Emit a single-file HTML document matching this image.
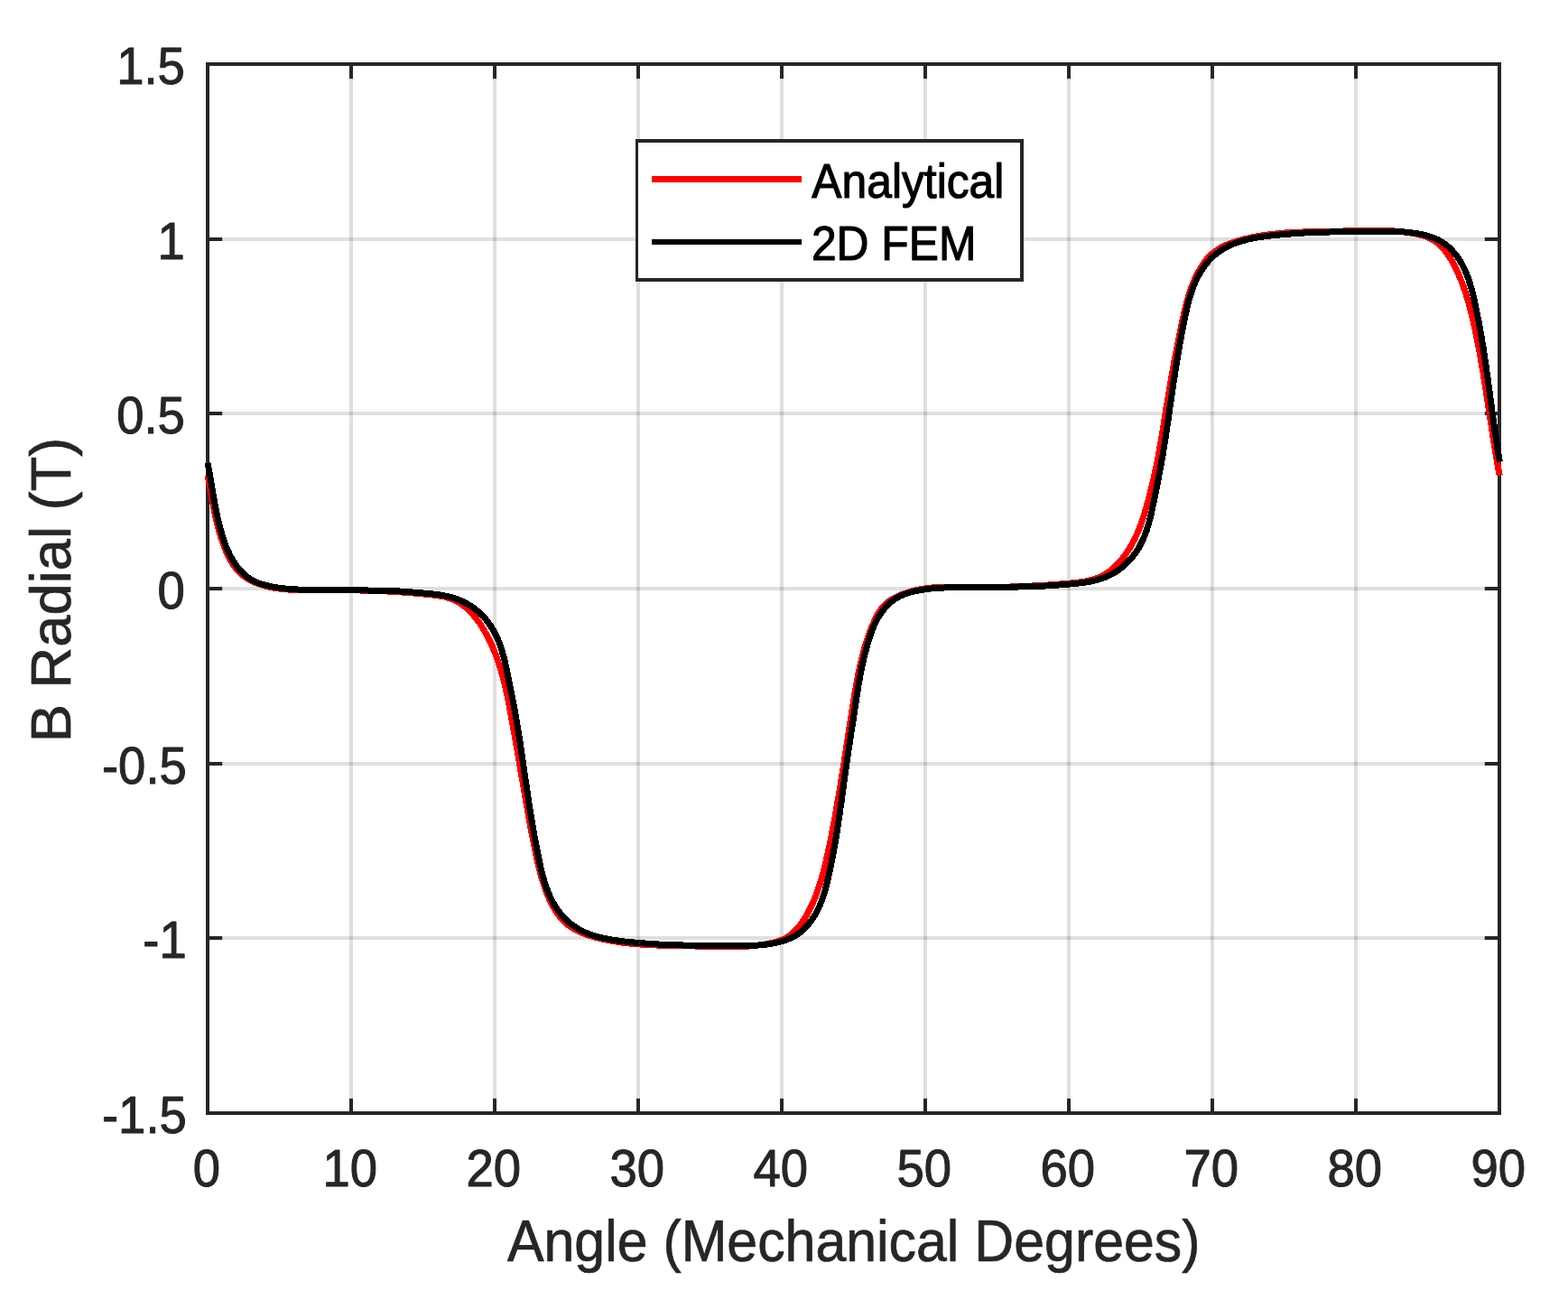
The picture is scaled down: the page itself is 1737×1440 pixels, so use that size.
<!DOCTYPE html>
<html lang="en"><head><meta charset="utf-8"><title>B Radial vs Angle</title>
<style>html,body{margin:0;padding:0;background:#fff}body{width:1737px;height:1440px;overflow:hidden}svg{display:block}text{font-family:"Liberation Sans",sans-serif}</style></head><body>
<svg width="1737" height="1440" viewBox="0 0 1737 1440">
<rect width="1737" height="1440" fill="#fff"/>
<g stroke="#262626" stroke-opacity="0.15" stroke-width="4" fill="none">
<line x1="389.00" y1="71.00" x2="389.00" y2="1233.00"/>
<line x1="548.00" y1="71.00" x2="548.00" y2="1233.00"/>
<line x1="707.00" y1="71.00" x2="707.00" y2="1233.00"/>
<line x1="866.00" y1="71.00" x2="866.00" y2="1233.00"/>
<line x1="1025.00" y1="71.00" x2="1025.00" y2="1233.00"/>
<line x1="1184.00" y1="71.00" x2="1184.00" y2="1233.00"/>
<line x1="1343.00" y1="71.00" x2="1343.00" y2="1233.00"/>
<line x1="1502.00" y1="71.00" x2="1502.00" y2="1233.00"/>
<line x1="230.00" y1="265.00" x2="1661.00" y2="265.00"/>
<line x1="230.00" y1="458.00" x2="1661.00" y2="458.00"/>
<line x1="230.00" y1="652.00" x2="1661.00" y2="652.00"/>
<line x1="230.00" y1="846.00" x2="1661.00" y2="846.00"/>
<line x1="230.00" y1="1039.00" x2="1661.00" y2="1039.00"/>
</g>
<g stroke="#262626" stroke-width="4" fill="none">
<rect x="230.00" y="71.00" width="1431.00" height="1162.00"/>
<line x1="389.00" y1="71.00" x2="389.00" y2="87.20"/>
<line x1="389.00" y1="1233.00" x2="389.00" y2="1216.80"/>
<line x1="548.00" y1="71.00" x2="548.00" y2="87.20"/>
<line x1="548.00" y1="1233.00" x2="548.00" y2="1216.80"/>
<line x1="707.00" y1="71.00" x2="707.00" y2="87.20"/>
<line x1="707.00" y1="1233.00" x2="707.00" y2="1216.80"/>
<line x1="866.00" y1="71.00" x2="866.00" y2="87.20"/>
<line x1="866.00" y1="1233.00" x2="866.00" y2="1216.80"/>
<line x1="1025.00" y1="71.00" x2="1025.00" y2="87.20"/>
<line x1="1025.00" y1="1233.00" x2="1025.00" y2="1216.80"/>
<line x1="1184.00" y1="71.00" x2="1184.00" y2="87.20"/>
<line x1="1184.00" y1="1233.00" x2="1184.00" y2="1216.80"/>
<line x1="1343.00" y1="71.00" x2="1343.00" y2="87.20"/>
<line x1="1343.00" y1="1233.00" x2="1343.00" y2="1216.80"/>
<line x1="1502.00" y1="71.00" x2="1502.00" y2="87.20"/>
<line x1="1502.00" y1="1233.00" x2="1502.00" y2="1216.80"/>
<line x1="230.00" y1="265.00" x2="246.20" y2="265.00"/>
<line x1="1661.00" y1="265.00" x2="1644.80" y2="265.00"/>
<line x1="230.00" y1="458.00" x2="246.20" y2="458.00"/>
<line x1="1661.00" y1="458.00" x2="1644.80" y2="458.00"/>
<line x1="230.00" y1="652.00" x2="246.20" y2="652.00"/>
<line x1="1661.00" y1="652.00" x2="1644.80" y2="652.00"/>
<line x1="230.00" y1="846.00" x2="246.20" y2="846.00"/>
<line x1="1661.00" y1="846.00" x2="1644.80" y2="846.00"/>
<line x1="230.00" y1="1039.00" x2="246.20" y2="1039.00"/>
<line x1="1661.00" y1="1039.00" x2="1644.80" y2="1039.00"/>
</g>
<path d="M230.0 526.5L230.3 528.0L230.6 529.4L230.8 530.9L231.1 532.4L231.4 533.9L231.7 535.3L232.0 536.8L232.2 538.3L232.5 539.7L232.8 541.2L233.0 542.7L233.3 544.2L233.6 545.7L233.8 547.1L234.1 548.6L234.4 550.1L234.6 551.6L234.9 553.0L235.2 554.5L235.5 556.0L235.7 557.5L236.0 558.9L236.3 560.4L236.6 561.9L236.9 563.4L237.2 564.8L237.5 566.3L237.8 567.8L238.1 569.3L238.4 570.7L238.7 572.2L239.0 573.7L239.4 575.1L239.7 576.6L240.0 578.0L240.4 579.5L240.8 581.0L241.1 582.4L241.5 583.9L241.9 585.3L242.3 586.8L242.7 588.2L243.1 589.7L243.5 591.1L243.9 592.5L244.4 594.0L244.8 595.4L245.3 596.8L245.8 598.2L246.3 599.7L246.8 601.1L247.3 602.5L247.8 603.9L248.3 605.3L248.9 606.7L249.5 608.1L250.0 609.5L250.6 610.9L251.3 612.3L251.9 613.7L252.5 615.1L253.2 616.4L253.9 617.8L254.6 619.1L255.3 620.5L256.0 621.8L256.8 623.1L257.6 624.4L258.4 625.7L259.2 626.9L260.1 628.1L261.0 629.3L261.9 630.5L262.9 631.6L263.9 632.7L264.9 633.8L266.0 634.8L267.1 635.9L268.2 636.8L269.4 637.7L270.6 638.6L271.8 639.5L273.1 640.3L274.4 641.1L275.7 641.9L277.0 642.6L278.3 643.3L279.7 643.9L281.1 644.6L282.4 645.2L283.8 645.7L285.2 646.3L286.6 646.8L288.1 647.3L289.5 647.8L290.9 648.2L292.3 648.6L293.8 649.0L295.2 649.4L296.7 649.8L298.2 650.1L299.6 650.4L301.1 650.7L302.6 651.0L304.1 651.2L305.6 651.5L307.0 651.7L308.5 651.9L310.0 652.1L311.5 652.3L313.0 652.4L314.5 652.6L316.1 652.7L317.6 652.9L319.1 653.0L320.6 653.1L322.1 653.2L323.6 653.3L325.1 653.3L326.6 653.4L328.1 653.5L329.6 653.5L331.1 653.6L332.6 653.6L334.1 653.6L335.6 653.7L337.1 653.7L338.6 653.7L340.1 653.8L341.6 653.8L343.1 653.8L344.6 653.8L346.1 653.8L347.6 653.8L349.1 653.8L350.5 653.8L352.0 653.8L353.5 653.8L355.0 653.8L356.5 653.8L358.0 653.8L359.5 653.8L361.0 653.8L362.5 653.8L364.0 653.8L365.5 653.8L367.0 653.8L368.5 653.8L370.0 653.8L371.5 653.8L373.0 653.8L374.5 653.8L376.0 653.8L377.5 653.8L379.0 653.8L380.5 653.8L382.0 653.8L383.5 653.8L385.0 653.8L386.5 653.8L388.1 653.8L389.6 653.8L391.1 653.8L392.6 653.9L394.1 653.9L395.6 653.9L397.1 653.9L398.6 654.0L400.1 654.0L401.6 654.0L403.1 654.0L404.6 654.1L406.1 654.1L407.6 654.1L409.1 654.2L410.6 654.2L412.1 654.3L413.6 654.3L415.1 654.4L416.6 654.4L418.1 654.5L419.6 654.5L421.1 654.6L422.6 654.7L424.1 654.7L425.5 654.8L427.0 654.9L428.5 655.0L430.0 655.0L431.5 655.1L432.9 655.2L434.4 655.3L435.9 655.4L437.4 655.5L438.9 655.6L440.4 655.7L441.8 655.8L443.3 655.9L444.8 656.0L446.3 656.1L447.8 656.2L449.3 656.3L450.8 656.4L452.2 656.5L453.7 656.7L455.2 656.8L456.7 656.9L458.2 657.0L459.7 657.1L461.3 657.3L462.8 657.4L464.3 657.5L465.8 657.7L467.3 657.8L468.9 657.9L470.4 658.1L471.9 658.2L473.5 658.3L475.0 658.5L476.6 658.6L478.1 658.8L479.6 659.0L481.2 659.2L482.7 659.4L484.2 659.6L485.8 659.8L487.3 660.1L488.8 660.3L490.3 660.6L491.8 660.9L493.2 661.3L494.7 661.7L496.1 662.1L497.6 662.5L499.0 663.0L500.4 663.5L501.7 664.1L503.1 664.7L504.4 665.3L505.7 666.0L507.0 666.7L508.3 667.4L509.5 668.2L510.7 669.0L511.9 669.8L513.1 670.7L514.3 671.6L515.4 672.5L516.6 673.5L517.7 674.4L518.8 675.4L519.8 676.5L520.9 677.5L521.9 678.6L522.9 679.7L523.9 680.8L524.9 682.0L525.9 683.2L526.9 684.3L527.8 685.5L528.7 686.7L529.6 688.0L530.5 689.2L531.4 690.5L532.2 691.7L533.1 693.0L533.9 694.3L534.7 695.6L535.5 696.9L536.3 698.2L537.0 699.5L537.8 700.8L538.5 702.1L539.3 703.5L540.0 704.8L540.7 706.1L541.4 707.5L542.0 708.8L542.7 710.2L543.4 711.5L544.0 712.9L544.6 714.3L545.2 715.6L545.8 717.0L546.4 718.4L547.0 719.8L547.6 721.2L548.1 722.6L548.7 723.9L549.2 725.3L549.7 726.7L550.3 728.1L550.8 729.6L551.3 731.0L551.8 732.4L552.2 733.8L552.7 735.2L553.2 736.6L553.6 738.1L554.1 739.5L554.5 740.9L554.9 742.4L555.4 743.8L555.8 745.3L556.2 746.7L556.6 748.1L557.0 749.6L557.3 751.0L557.7 752.5L558.1 753.9L558.5 755.4L558.8 756.9L559.2 758.3L559.5 759.8L559.9 761.3L560.2 762.7L560.5 764.2L560.8 765.7L561.2 767.1L561.5 768.6L561.8 770.1L562.1 771.5L562.4 773.0L562.7 774.5L563.0 776.0L563.3 777.4L563.6 778.9L563.9 780.4L564.2 781.9L564.4 783.4L564.7 784.8L565.0 786.3L565.3 787.8L565.6 789.3L565.8 790.8L566.1 792.2L566.4 793.7L566.6 795.2L566.9 796.7L567.2 798.2L567.4 799.7L567.7 801.1L568.0 802.6L568.2 804.1L568.5 805.6L568.8 807.0L569.0 808.5L569.3 810.0L569.6 811.5L569.8 813.0L570.1 814.4L570.3 815.9L570.6 817.4L570.9 818.9L571.1 820.3L571.4 821.8L571.7 823.3L571.9 824.8L572.2 826.2L572.4 827.7L572.7 829.2L573.0 830.7L573.2 832.1L573.5 833.6L573.7 835.1L574.0 836.6L574.2 838.0L574.5 839.5L574.7 841.0L575.0 842.5L575.3 843.9L575.5 845.4L575.8 846.9L576.0 848.4L576.3 849.8L576.5 851.3L576.8 852.8L577.0 854.3L577.3 855.7L577.5 857.2L577.8 858.7L578.0 860.2L578.3 861.6L578.5 863.1L578.8 864.6L579.0 866.1L579.3 867.5L579.5 869.0L579.8 870.5L580.0 872.0L580.3 873.5L580.5 874.9L580.8 876.4L581.0 877.9L581.3 879.4L581.5 880.8L581.8 882.3L582.0 883.8L582.3 885.3L582.5 886.7L582.8 888.2L583.0 889.7L583.3 891.2L583.6 892.7L583.8 894.1L584.1 895.6L584.3 897.1L584.6 898.6L584.9 900.0L585.1 901.5L585.4 903.0L585.6 904.5L585.9 905.9L586.2 907.4L586.4 908.9L586.7 910.4L587.0 911.8L587.3 913.3L587.5 914.8L587.8 916.3L588.1 917.8L588.4 919.2L588.6 920.7L588.9 922.2L589.2 923.7L589.5 925.1L589.8 926.6L590.1 928.1L590.3 929.6L590.6 931.0L590.9 932.5L591.2 934.0L591.5 935.5L591.8 936.9L592.1 938.4L592.4 939.9L592.7 941.3L593.0 942.8L593.3 944.3L593.7 945.8L594.0 947.2L594.3 948.7L594.6 950.2L594.9 951.7L595.3 953.1L595.6 954.6L595.9 956.1L596.3 957.5L596.6 959.0L596.9 960.5L597.3 961.9L597.7 963.4L598.0 964.9L598.4 966.3L598.8 967.8L599.2 969.2L599.6 970.7L600.0 972.1L600.4 973.6L600.8 975.0L601.2 976.4L601.7 977.9L602.1 979.3L602.6 980.7L603.1 982.1L603.6 983.6L604.1 985.0L604.6 986.4L605.1 987.8L605.7 989.2L606.2 990.6L606.8 991.9L607.4 993.3L608.0 994.7L608.6 996.0L609.3 997.4L609.9 998.7L610.6 1000.1L611.3 1001.4L612.0 1002.7L612.7 1004.1L613.5 1005.4L614.2 1006.7L615.0 1008.0L615.8 1009.3L616.7 1010.5L617.5 1011.8L618.4 1013.0L619.3 1014.3L620.2 1015.5L621.2 1016.6L622.2 1017.8L623.2 1018.9L624.2 1020.0L625.3 1021.0L626.3 1022.0L627.5 1023.0L628.6 1024.0L629.8 1024.9L630.9 1025.7L632.1 1026.6L633.4 1027.4L634.6 1028.2L635.9 1029.0L637.2 1029.7L638.5 1030.4L639.8 1031.1L641.2 1031.7L642.5 1032.4L643.9 1033.0L645.3 1033.6L646.7 1034.1L648.1 1034.7L649.5 1035.2L651.0 1035.7L652.4 1036.2L653.8 1036.6L655.3 1037.1L656.8 1037.5L658.2 1037.9L659.7 1038.3L661.2 1038.7L662.7 1039.1L664.2 1039.5L665.6 1039.8L667.1 1040.1L668.6 1040.5L670.1 1040.8L671.6 1041.1L673.1 1041.4L674.5 1041.7L676.0 1042.0L677.5 1042.2L679.0 1042.5L680.5 1042.7L682.0 1043.0L683.5 1043.2L685.0 1043.4L686.4 1043.7L687.9 1043.9L689.4 1044.1L690.9 1044.3L692.4 1044.4L693.9 1044.6L695.4 1044.8L696.9 1044.9L698.3 1045.1L699.8 1045.3L701.3 1045.4L702.8 1045.5L704.3 1045.7L705.8 1045.8L707.3 1045.9L708.8 1046.0L710.3 1046.1L711.8 1046.2L713.3 1046.3L714.7 1046.4L716.2 1046.5L717.7 1046.6L719.2 1046.7L720.7 1046.7L722.2 1046.8L723.7 1046.9L725.2 1046.9L726.7 1047.0L728.2 1047.0L729.7 1047.1L731.2 1047.1L732.7 1047.2L734.2 1047.2L735.7 1047.3L737.1 1047.3L738.6 1047.3L740.1 1047.4L741.6 1047.4L743.1 1047.4L744.6 1047.5L746.1 1047.5L747.6 1047.5L749.1 1047.6L750.6 1047.6L752.1 1047.6L753.6 1047.6L755.1 1047.7L756.6 1047.7L758.1 1047.7L759.6 1047.7L761.1 1047.8L762.6 1047.8L764.1 1047.8L765.6 1047.9L767.1 1047.9L768.6 1047.9L770.1 1048.0L771.6 1048.0L773.1 1048.0L774.6 1048.1L776.1 1048.1L777.6 1048.2L779.1 1048.2L780.6 1048.3L782.1 1048.3L783.6 1048.4L785.1 1048.4L786.6 1048.4L788.1 1048.5L789.6 1048.5L791.1 1048.6L792.7 1048.6L794.2 1048.6L795.7 1048.7L797.2 1048.7L798.7 1048.7L800.2 1048.7L801.7 1048.7L803.2 1048.8L804.7 1048.8L806.2 1048.8L807.7 1048.8L809.2 1048.8L810.7 1048.8L812.2 1048.7L813.7 1048.7L815.2 1048.7L816.7 1048.6L818.2 1048.6L819.7 1048.6L821.2 1048.5L822.7 1048.4L824.2 1048.4L825.7 1048.3L827.2 1048.2L828.7 1048.1L830.2 1048.0L831.7 1047.8L833.2 1047.7L834.7 1047.6L836.2 1047.4L837.7 1047.3L839.2 1047.1L840.7 1046.9L842.2 1046.7L843.7 1046.5L845.2 1046.3L846.7 1046.1L848.2 1045.8L849.6 1045.5L851.1 1045.3L852.6 1045.0L854.1 1044.7L855.6 1044.4L857.1 1044.0L858.5 1043.6L860.0 1043.3L861.4 1042.8L862.9 1042.4L864.3 1041.9L865.7 1041.3L867.0 1040.8L868.4 1040.2L869.7 1039.5L871.0 1038.8L872.3 1038.0L873.5 1037.2L874.7 1036.4L875.9 1035.5L877.1 1034.6L878.2 1033.6L879.3 1032.6L880.4 1031.5L881.4 1030.5L882.4 1029.4L883.5 1028.2L884.4 1027.1L885.4 1025.9L886.3 1024.7L887.2 1023.5L888.1 1022.2L889.0 1021.0L889.9 1019.7L890.7 1018.4L891.5 1017.2L892.3 1015.9L893.1 1014.6L893.8 1013.3L894.6 1011.9L895.3 1010.6L896.0 1009.3L896.7 1007.9L897.4 1006.6L898.0 1005.2L898.7 1003.8L899.3 1002.5L900.0 1001.1L900.6 999.7L901.2 998.3L901.8 997.0L902.3 995.6L902.9 994.2L903.5 992.8L904.0 991.4L904.5 990.0L905.0 988.6L905.6 987.2L906.1 985.7L906.5 984.3L907.0 982.9L907.5 981.5L908.0 980.1L908.4 978.6L908.9 977.2L909.3 975.8L909.7 974.3L910.1 972.9L910.6 971.5L911.0 970.0L911.4 968.6L911.8 967.1L912.1 965.7L912.5 964.2L912.9 962.8L913.3 961.3L913.6 959.9L914.0 958.4L914.3 957.0L914.7 955.5L915.0 954.0L915.4 952.6L915.7 951.1L916.0 949.7L916.4 948.2L916.7 946.7L917.0 945.3L917.3 943.8L917.6 942.3L918.0 940.9L918.3 939.4L918.6 937.9L918.9 936.5L919.2 935.0L919.5 933.5L919.8 932.1L920.1 930.6L920.4 929.1L920.7 927.6L921.0 926.2L921.3 924.7L921.5 923.2L921.8 921.8L922.1 920.3L922.4 918.8L922.7 917.3L923.0 915.9L923.2 914.4L923.5 912.9L923.8 911.4L924.1 910.0L924.4 908.5L924.6 907.0L924.9 905.6L925.2 904.1L925.4 902.6L925.7 901.1L926.0 899.6L926.2 898.2L926.5 896.7L926.7 895.2L927.0 893.7L927.3 892.3L927.5 890.8L927.8 889.3L928.0 887.8L928.3 886.4L928.5 884.9L928.8 883.4L929.0 881.9L929.3 880.4L929.5 879.0L929.8 877.5L930.0 876.0L930.3 874.5L930.5 873.0L930.7 871.6L931.0 870.1L931.2 868.6L931.5 867.1L931.7 865.6L931.9 864.2L932.2 862.7L932.4 861.2L932.7 859.7L932.9 858.2L933.1 856.8L933.4 855.3L933.6 853.8L933.8 852.3L934.1 850.8L934.3 849.3L934.5 847.9L934.8 846.4L935.0 844.9L935.2 843.4L935.5 841.9L935.7 840.5L935.9 839.0L936.1 837.5L936.4 836.0L936.6 834.5L936.8 833.0L937.1 831.6L937.3 830.1L937.5 828.6L937.7 827.1L938.0 825.6L938.2 824.1L938.4 822.7L938.6 821.2L938.9 819.7L939.1 818.2L939.3 816.7L939.6 815.2L939.8 813.8L940.0 812.3L940.2 810.8L940.5 809.3L940.7 807.8L940.9 806.3L941.2 804.9L941.4 803.4L941.6 801.9L941.8 800.4L942.1 798.9L942.3 797.4L942.5 796.0L942.8 794.5L943.0 793.0L943.2 791.5L943.5 790.0L943.7 788.5L943.9 787.1L944.2 785.6L944.4 784.1L944.6 782.6L944.9 781.1L945.1 779.6L945.3 778.2L945.6 776.7L945.8 775.2L946.1 773.7L946.3 772.2L946.5 770.7L946.8 769.3L947.0 767.8L947.3 766.3L947.5 764.8L947.8 763.3L948.0 761.9L948.3 760.4L948.5 758.9L948.8 757.4L949.1 755.9L949.3 754.5L949.6 753.0L949.9 751.5L950.2 750.0L950.5 748.6L950.7 747.1L951.0 745.6L951.3 744.2L951.6 742.7L952.0 741.2L952.3 739.8L952.6 738.3L952.9 736.8L953.2 735.4L953.6 733.9L953.9 732.4L954.3 731.0L954.6 729.5L955.0 728.1L955.3 726.6L955.7 725.2L956.1 723.7L956.5 722.3L956.9 720.8L957.3 719.4L957.7 717.9L958.1 716.5L958.6 715.1L959.0 713.6L959.4 712.2L959.9 710.8L960.4 709.3L960.8 707.9L961.3 706.5L961.8 705.1L962.3 703.6L962.8 702.2L963.3 700.8L963.9 699.4L964.4 698.0L965.0 696.6L965.5 695.2L966.1 693.8L966.7 692.4L967.3 691.0L967.9 689.6L968.5 688.2L969.1 686.8L969.8 685.4L970.5 684.1L971.2 682.7L971.9 681.4L972.6 680.1L973.4 678.8L974.2 677.5L975.0 676.3L975.9 675.1L976.8 673.9L977.7 672.7L978.7 671.6L979.7 670.5L980.7 669.5L981.8 668.5L983.0 667.5L984.1 666.6L985.4 665.7L986.6 664.9L987.9 664.0L989.2 663.3L990.5 662.5L991.9 661.8L993.3 661.1L994.6 660.5L996.0 659.8L997.4 659.2L998.8 658.7L1000.3 658.1L1001.7 657.6L1003.1 657.1L1004.5 656.6L1005.9 656.1L1007.4 655.7L1008.8 655.3L1010.2 654.9L1011.7 654.5L1013.1 654.1L1014.6 653.8L1016.0 653.5L1017.5 653.2L1019.0 652.9L1020.4 652.6L1021.9 652.4L1023.4 652.1L1024.8 651.9L1026.3 651.7L1027.8 651.5L1029.3 651.4L1030.7 651.2L1032.2 651.0L1033.7 650.9L1035.2 650.8L1036.7 650.7L1038.2 650.6L1039.7 650.5L1041.2 650.4L1042.7 650.3L1044.2 650.3L1045.7 650.2L1047.2 650.2L1048.7 650.1L1050.2 650.1L1051.7 650.1L1053.2 650.1L1054.7 650.1L1056.3 650.1L1057.8 650.1L1059.3 650.1L1060.8 650.1L1062.3 650.1L1063.8 650.1L1065.3 650.1L1066.8 650.2L1068.4 650.2L1069.9 650.2L1071.4 650.2L1072.9 650.3L1074.4 650.3L1075.9 650.3L1077.4 650.3L1078.9 650.4L1080.5 650.4L1082.0 650.4L1083.5 650.4L1085.0 650.4L1086.5 650.4L1088.0 650.4L1089.5 650.4L1091.0 650.4L1092.5 650.4L1094.0 650.4L1095.5 650.4L1097.0 650.4L1098.5 650.4L1100.0 650.4L1101.5 650.4L1103.0 650.3L1104.5 650.3L1106.0 650.3L1107.5 650.3L1109.0 650.2L1110.5 650.2L1112.0 650.2L1113.5 650.1L1115.0 650.1L1116.5 650.1L1118.0 650.0L1119.5 650.0L1120.9 649.9L1122.4 649.9L1123.9 649.8L1125.4 649.8L1126.9 649.7L1128.4 649.7L1129.9 649.6L1131.4 649.5L1132.9 649.5L1134.4 649.4L1135.8 649.4L1137.3 649.3L1138.8 649.2L1140.3 649.2L1141.8 649.1L1143.3 649.0L1144.8 648.9L1146.3 648.9L1147.7 648.8L1149.2 648.7L1150.7 648.6L1152.2 648.5L1153.7 648.4L1155.2 648.3L1156.7 648.3L1158.2 648.2L1159.7 648.1L1161.2 648.0L1162.7 647.9L1164.2 647.8L1165.7 647.7L1167.2 647.5L1168.7 647.4L1170.2 647.3L1171.7 647.2L1173.2 647.1L1174.7 647.0L1176.2 646.9L1177.7 646.7L1179.2 646.6L1180.7 646.5L1182.2 646.3L1183.8 646.2L1185.3 646.1L1186.8 645.9L1188.3 645.8L1189.9 645.6L1191.4 645.5L1192.9 645.3L1194.4 645.1L1196.0 644.9L1197.5 644.7L1199.0 644.5L1200.5 644.3L1202.0 644.0L1203.5 643.8L1205.0 643.5L1206.4 643.1L1207.9 642.8L1209.3 642.4L1210.8 642.0L1212.2 641.6L1213.6 641.1L1215.0 640.6L1216.4 640.1L1217.7 639.5L1219.1 638.9L1220.4 638.3L1221.7 637.6L1223.0 636.9L1224.2 636.1L1225.5 635.3L1226.7 634.5L1227.9 633.7L1229.1 632.8L1230.3 631.9L1231.5 630.9L1232.6 630.0L1233.7 629.0L1234.8 628.0L1235.9 626.9L1237.0 625.9L1238.1 624.8L1239.1 623.7L1240.1 622.6L1241.1 621.4L1242.1 620.3L1243.1 619.1L1244.0 617.9L1244.9 616.7L1245.8 615.5L1246.7 614.2L1247.6 613.0L1248.5 611.7L1249.3 610.4L1250.1 609.1L1251.0 607.8L1251.7 606.5L1252.5 605.2L1253.3 603.9L1254.0 602.6L1254.7 601.3L1255.4 599.9L1256.1 598.6L1256.8 597.2L1257.5 595.9L1258.1 594.5L1258.7 593.2L1259.4 591.8L1260.0 590.4L1260.6 589.0L1261.1 587.6L1261.7 586.3L1262.2 584.9L1262.8 583.5L1263.3 582.1L1263.8 580.7L1264.4 579.2L1264.9 577.8L1265.3 576.4L1265.8 575.0L1266.3 573.6L1266.8 572.2L1267.2 570.7L1267.7 569.3L1268.1 567.9L1268.5 566.4L1269.0 565.0L1269.4 563.5L1269.8 562.1L1270.2 560.7L1270.6 559.2L1271.0 557.8L1271.4 556.3L1271.8 554.9L1272.2 553.4L1272.6 552.0L1273.0 550.5L1273.3 549.1L1273.7 547.6L1274.1 546.2L1274.5 544.7L1274.8 543.3L1275.2 541.8L1275.5 540.3L1275.9 538.9L1276.3 537.4L1276.6 536.0L1276.9 534.5L1277.3 533.1L1277.6 531.6L1278.0 530.1L1278.3 528.7L1278.6 527.2L1278.9 525.7L1279.3 524.3L1279.6 522.8L1279.9 521.3L1280.2 519.9L1280.5 518.4L1280.8 516.9L1281.1 515.5L1281.4 514.0L1281.7 512.5L1282.0 511.1L1282.3 509.6L1282.6 508.1L1282.9 506.6L1283.2 505.2L1283.4 503.7L1283.7 502.2L1284.0 500.7L1284.2 499.3L1284.5 497.8L1284.8 496.3L1285.0 494.8L1285.3 493.3L1285.5 491.9L1285.8 490.4L1286.0 488.9L1286.3 487.4L1286.5 485.9L1286.8 484.4L1287.0 483.0L1287.3 481.5L1287.5 480.0L1287.8 478.5L1288.0 477.0L1288.2 475.6L1288.5 474.1L1288.7 472.6L1289.0 471.1L1289.2 469.6L1289.4 468.1L1289.7 466.7L1289.9 465.2L1290.1 463.7L1290.4 462.2L1290.6 460.7L1290.8 459.2L1291.1 457.8L1291.3 456.3L1291.6 454.8L1291.8 453.3L1292.0 451.8L1292.3 450.4L1292.5 448.9L1292.8 447.4L1293.0 445.9L1293.2 444.4L1293.5 443.0L1293.7 441.5L1294.0 440.0L1294.2 438.5L1294.5 437.0L1294.7 435.6L1295.0 434.1L1295.2 432.6L1295.5 431.1L1295.7 429.7L1296.0 428.2L1296.2 426.7L1296.5 425.2L1296.7 423.8L1297.0 422.3L1297.2 420.8L1297.5 419.3L1297.8 417.9L1298.0 416.4L1298.3 414.9L1298.5 413.4L1298.8 412.0L1299.1 410.5L1299.3 409.0L1299.6 407.5L1299.9 406.1L1300.1 404.6L1300.4 403.1L1300.7 401.6L1300.9 400.2L1301.2 398.7L1301.5 397.2L1301.8 395.8L1302.0 394.3L1302.3 392.8L1302.6 391.3L1302.9 389.9L1303.2 388.4L1303.4 386.9L1303.7 385.4L1304.0 384.0L1304.3 382.5L1304.6 381.0L1304.9 379.6L1305.2 378.1L1305.5 376.6L1305.8 375.1L1306.1 373.7L1306.4 372.2L1306.7 370.7L1307.0 369.2L1307.3 367.8L1307.6 366.3L1307.9 364.8L1308.2 363.4L1308.5 361.9L1308.8 360.4L1309.1 358.9L1309.4 357.5L1309.7 356.0L1310.1 354.5L1310.4 353.1L1310.7 351.6L1311.0 350.1L1311.4 348.6L1311.7 347.2L1312.0 345.7L1312.4 344.2L1312.7 342.8L1313.1 341.3L1313.4 339.8L1313.8 338.4L1314.2 336.9L1314.5 335.5L1314.9 334.0L1315.3 332.6L1315.7 331.1L1316.2 329.7L1316.6 328.2L1317.0 326.8L1317.5 325.4L1317.9 323.9L1318.4 322.5L1318.9 321.1L1319.4 319.7L1319.9 318.3L1320.4 316.9L1320.9 315.5L1321.5 314.1L1322.0 312.7L1322.6 311.3L1323.2 309.9L1323.8 308.6L1324.4 307.2L1325.1 305.9L1325.8 304.5L1326.4 303.2L1327.1 301.8L1327.9 300.5L1328.6 299.2L1329.4 297.9L1330.1 296.6L1330.9 295.3L1331.8 294.0L1332.6 292.8L1333.5 291.5L1334.4 290.3L1335.3 289.1L1336.2 287.9L1337.2 286.7L1338.2 285.6L1339.2 284.5L1340.3 283.5L1341.3 282.4L1342.5 281.4L1343.6 280.5L1344.7 279.6L1345.9 278.7L1347.1 277.8L1348.3 277.0L1349.6 276.2L1350.8 275.4L1352.1 274.6L1353.4 273.9L1354.7 273.2L1356.1 272.6L1357.4 271.9L1358.8 271.3L1360.2 270.7L1361.6 270.1L1363.0 269.6L1364.4 269.1L1365.8 268.5L1367.3 268.1L1368.7 267.6L1370.2 267.1L1371.6 266.7L1373.1 266.3L1374.5 265.9L1376.0 265.5L1377.5 265.1L1379.0 264.7L1380.5 264.4L1381.9 264.0L1383.4 263.7L1384.9 263.3L1386.4 263.0L1387.9 262.7L1389.4 262.4L1390.9 262.2L1392.3 261.9L1393.8 261.6L1395.3 261.4L1396.8 261.1L1398.3 260.9L1399.8 260.7L1401.3 260.4L1402.7 260.2L1404.2 260.0L1405.7 259.8L1407.2 259.6L1408.7 259.5L1410.2 259.3L1411.7 259.1L1413.2 259.0L1414.6 258.8L1416.1 258.7L1417.6 258.5L1419.1 258.4L1420.6 258.3L1422.1 258.1L1423.6 258.0L1425.1 257.9L1426.6 257.8L1428.1 257.7L1429.6 257.6L1431.0 257.5L1432.5 257.5L1434.0 257.4L1435.5 257.3L1437.0 257.2L1438.5 257.2L1440.0 257.1L1441.5 257.0L1443.0 257.0L1444.5 256.9L1446.0 256.9L1447.5 256.8L1449.0 256.8L1450.5 256.8L1452.0 256.7L1453.5 256.7L1455.0 256.6L1456.5 256.6L1457.9 256.6L1459.4 256.5L1460.9 256.5L1462.4 256.5L1463.9 256.5L1465.4 256.4L1466.9 256.4L1468.4 256.4L1469.9 256.4L1471.4 256.3L1472.9 256.3L1474.4 256.3L1475.9 256.2L1477.4 256.2L1478.9 256.2L1480.4 256.2L1481.9 256.1L1483.4 256.1L1484.9 256.1L1486.4 256.0L1487.9 256.0L1489.4 255.9L1490.9 255.9L1492.4 255.8L1493.9 255.8L1495.4 255.8L1497.0 255.7L1498.5 255.7L1500.0 255.6L1501.5 255.6L1503.0 255.5L1504.5 255.5L1506.0 255.5L1507.5 255.4L1509.0 255.4L1510.5 255.4L1512.0 255.3L1513.5 255.3L1515.0 255.3L1516.5 255.3L1518.0 255.2L1519.5 255.2L1521.0 255.2L1522.5 255.2L1524.0 255.2L1525.5 255.2L1527.0 255.3L1528.5 255.3L1530.0 255.3L1531.5 255.3L1533.0 255.4L1534.5 255.4L1536.0 255.5L1537.5 255.5L1539.0 255.6L1540.5 255.7L1542.0 255.8L1543.5 255.9L1545.0 256.0L1546.5 256.1L1548.0 256.2L1549.5 256.4L1551.0 256.5L1552.5 256.7L1554.0 256.8L1555.5 257.0L1557.0 257.2L1558.5 257.4L1560.0 257.6L1561.5 257.8L1563.0 258.1L1564.5 258.3L1565.9 258.6L1567.4 258.9L1568.9 259.2L1570.4 259.5L1571.9 259.8L1573.4 260.2L1574.8 260.6L1576.3 261.0L1577.7 261.4L1579.1 261.9L1580.5 262.4L1581.9 263.0L1583.3 263.6L1584.6 264.2L1585.9 264.9L1587.2 265.6L1588.4 266.4L1589.7 267.2L1590.9 268.1L1592.1 269.0L1593.2 269.9L1594.3 270.9L1595.4 272.0L1596.5 273.0L1597.5 274.1L1598.6 275.2L1599.6 276.4L1600.5 277.6L1601.5 278.8L1602.4 280.0L1603.3 281.2L1604.2 282.4L1605.0 283.7L1605.9 285.0L1606.7 286.2L1607.5 287.5L1608.2 288.8L1609.0 290.1L1609.7 291.5L1610.4 292.8L1611.1 294.1L1611.8 295.5L1612.5 296.8L1613.2 298.2L1613.8 299.6L1614.4 300.9L1615.1 302.3L1615.7 303.7L1616.3 305.1L1616.8 306.4L1617.4 307.8L1618.0 309.2L1618.5 310.6L1619.1 312.0L1619.6 313.4L1620.2 314.8L1620.7 316.2L1621.2 317.6L1621.7 319.1L1622.2 320.5L1622.7 321.9L1623.1 323.3L1623.6 324.7L1624.1 326.2L1624.5 327.6L1625.0 329.0L1625.4 330.5L1625.8 331.9L1626.2 333.3L1626.7 334.8L1627.1 336.2L1627.5 337.7L1627.9 339.1L1628.3 340.5L1628.6 342.0L1629.0 343.4L1629.4 344.9L1629.8 346.4L1630.1 347.8L1630.5 349.3L1630.8 350.7L1631.2 352.2L1631.5 353.6L1631.9 355.1L1632.2 356.6L1632.5 358.0L1632.8 359.5L1633.2 361.0L1633.5 362.4L1633.8 363.9L1634.1 365.4L1634.4 366.8L1634.7 368.3L1635.1 369.8L1635.4 371.2L1635.7 372.7L1636.0 374.2L1636.3 375.6L1636.5 377.1L1636.8 378.6L1637.1 380.0L1637.4 381.5L1637.7 383.0L1638.0 384.5L1638.3 385.9L1638.5 387.4L1638.8 388.9L1639.1 390.4L1639.3 391.8L1639.6 393.3L1639.9 394.8L1640.1 396.3L1640.4 397.7L1640.7 399.2L1640.9 400.7L1641.2 402.2L1641.4 403.7L1641.7 405.1L1641.9 406.6L1642.2 408.1L1642.4 409.6L1642.7 411.0L1642.9 412.5L1643.2 414.0L1643.4 415.5L1643.7 417.0L1643.9 418.5L1644.1 419.9L1644.4 421.4L1644.6 422.9L1644.8 424.4L1645.1 425.9L1645.3 427.3L1645.5 428.8L1645.8 430.3L1646.0 431.8L1646.2 433.3L1646.5 434.8L1646.7 436.2L1646.9 437.7L1647.2 439.2L1647.4 440.7L1647.6 442.2L1647.8 443.7L1648.1 445.1L1648.3 446.6L1648.5 448.1L1648.7 449.6L1649.0 451.1L1649.2 452.6L1649.4 454.0L1649.6 455.5L1649.9 457.0L1650.1 458.5L1650.3 460.0L1650.5 461.5L1650.8 463.0L1651.0 464.4L1651.2 465.9L1651.4 467.4L1651.7 468.9L1651.9 470.4L1652.1 471.9L1652.3 473.3L1652.6 474.8L1652.8 476.3L1653.0 477.8L1653.2 479.3L1653.5 480.8L1653.7 482.2L1653.9 483.7L1654.2 485.2L1654.4 486.7L1654.6 488.2L1654.9 489.6L1655.1 491.1L1655.3 492.6L1655.6 494.1L1655.8 495.6L1656.1 497.1L1656.3 498.5L1656.5 500.0L1656.8 501.5L1657.0 503.0L1657.3 504.5L1657.5 505.9L1657.8 507.4L1658.0 508.9L1658.3 510.4L1658.5 511.8L1658.8 513.3L1659.1 514.8L1659.3 516.3L1659.6 517.7L1659.8 519.2L1660.1 520.7L1660.4 522.2L1660.6 523.6L1660.9 525.1L1661.2 526.6" fill="none" stroke="#ff0000" stroke-width="7" stroke-linejoin="round" shape-rendering="crispEdges"/>
<path d="M230.0 512.8L230.3 514.3L230.6 515.7L230.9 517.2L231.1 518.7L231.4 520.2L231.7 521.6L231.9 523.1L232.2 524.6L232.5 526.1L232.7 527.5L233.0 529.0L233.2 530.5L233.5 532.0L233.7 533.5L234.0 534.9L234.2 536.4L234.5 537.9L234.7 539.4L235.0 540.9L235.2 542.3L235.5 543.8L235.7 545.3L236.0 546.8L236.2 548.3L236.5 549.7L236.8 551.2L237.0 552.7L237.3 554.2L237.5 555.7L237.8 557.1L238.1 558.6L238.4 560.1L238.6 561.6L238.9 563.0L239.2 564.5L239.5 566.0L239.8 567.4L240.1 568.9L240.4 570.4L240.7 571.8L241.1 573.3L241.4 574.8L241.7 576.2L242.1 577.7L242.4 579.2L242.8 580.6L243.1 582.1L243.5 583.5L243.9 585.0L244.3 586.4L244.7 587.9L245.1 589.3L245.5 590.7L245.9 592.2L246.4 593.6L246.8 595.0L247.3 596.5L247.7 597.9L248.2 599.3L248.7 600.7L249.2 602.2L249.8 603.6L250.3 605.0L250.8 606.4L251.4 607.8L252.0 609.2L252.6 610.5L253.3 611.9L253.9 613.3L254.6 614.6L255.3 616.0L256.0 617.3L256.7 618.6L257.5 620.0L258.3 621.3L259.1 622.5L259.9 623.8L260.8 625.1L261.6 626.3L262.5 627.5L263.5 628.7L264.4 629.9L265.4 631.0L266.4 632.1L267.4 633.2L268.4 634.3L269.5 635.3L270.6 636.3L271.7 637.3L272.9 638.2L274.1 639.1L275.2 640.0L276.5 640.8L277.7 641.6L279.0 642.4L280.3 643.1L281.6 643.8L283.0 644.4L284.3 645.0L285.7 645.6L287.1 646.1L288.6 646.6L290.0 647.1L291.5 647.5L292.9 647.9L294.4 648.3L295.9 648.7L297.4 649.0L298.9 649.4L300.3 649.7L301.8 650.0L303.3 650.2L304.8 650.5L306.3 650.8L307.8 651.0L309.3 651.2L310.8 651.4L312.3 651.6L313.8 651.8L315.3 651.9L316.8 652.1L318.2 652.2L319.7 652.4L321.2 652.5L322.7 652.6L324.2 652.7L325.7 652.8L327.2 652.9L328.7 652.9L330.2 653.0L331.7 653.1L333.2 653.1L334.7 653.2L336.2 653.2L337.7 653.2L339.2 653.3L340.7 653.3L342.2 653.3L343.7 653.3L345.2 653.3L346.7 653.3L348.2 653.3L349.7 653.3L351.2 653.3L352.7 653.3L354.2 653.3L355.7 653.3L357.2 653.3L358.7 653.3L360.2 653.3L361.7 653.3L363.2 653.3L364.7 653.3L366.2 653.3L367.7 653.3L369.2 653.3L370.7 653.3L372.2 653.3L373.7 653.4L375.2 653.4L376.7 653.4L378.2 653.4L379.7 653.4L381.2 653.5L382.7 653.5L384.2 653.5L385.7 653.5L387.2 653.6L388.7 653.6L390.2 653.6L391.7 653.6L393.2 653.7L394.7 653.7L396.2 653.7L397.7 653.8L399.2 653.8L400.7 653.8L402.2 653.8L403.7 653.9L405.2 653.9L406.7 653.9L408.2 654.0L409.7 654.0L411.2 654.0L412.7 654.0L414.2 654.1L415.7 654.1L417.2 654.1L418.7 654.2L420.2 654.2L421.7 654.2L423.2 654.3L424.7 654.3L426.2 654.3L427.7 654.4L429.2 654.4L430.7 654.5L432.2 654.5L433.7 654.6L435.2 654.7L436.7 654.7L438.2 654.8L439.7 654.9L441.2 654.9L442.7 655.0L444.2 655.1L445.7 655.2L447.2 655.3L448.7 655.4L450.2 655.5L451.7 655.6L453.2 655.7L454.7 655.8L456.2 655.9L457.7 656.1L459.1 656.2L460.6 656.3L462.1 656.4L463.6 656.5L465.1 656.7L466.6 656.8L468.1 656.9L469.6 657.1L471.1 657.2L472.6 657.3L474.1 657.5L475.6 657.6L477.1 657.7L478.6 657.9L480.1 658.1L481.6 658.2L483.1 658.4L484.6 658.6L486.1 658.8L487.5 659.0L489.0 659.3L490.5 659.5L492.0 659.8L493.5 660.1L494.9 660.4L496.4 660.7L497.8 661.1L499.3 661.5L500.7 661.9L502.2 662.3L503.6 662.8L505.1 663.2L506.5 663.8L507.9 664.3L509.3 664.9L510.7 665.4L512.1 666.1L513.4 666.7L514.8 667.4L516.1 668.1L517.4 668.8L518.7 669.6L520.0 670.3L521.3 671.1L522.6 672.0L523.8 672.8L525.0 673.7L526.2 674.6L527.4 675.5L528.5 676.5L529.7 677.5L530.8 678.5L531.9 679.5L533.0 680.5L534.0 681.6L535.1 682.7L536.1 683.8L537.1 684.9L538.1 686.0L539.0 687.2L540.0 688.4L540.9 689.6L541.8 690.8L542.6 692.0L543.5 693.2L544.3 694.5L545.1 695.7L545.9 697.0L546.6 698.3L547.4 699.6L548.1 700.9L548.8 702.3L549.4 703.6L550.1 705.0L550.7 706.3L551.3 707.7L551.9 709.1L552.5 710.4L553.0 711.8L553.5 713.2L554.0 714.6L554.5 716.1L555.0 717.5L555.5 718.9L555.9 720.4L556.4 721.8L556.8 723.3L557.2 724.7L557.6 726.2L558.0 727.6L558.4 729.1L558.7 730.6L559.1 732.0L559.4 733.5L559.8 735.0L560.1 736.5L560.5 738.0L560.8 739.5L561.1 740.9L561.4 742.4L561.7 743.9L562.0 745.4L562.3 746.9L562.6 748.4L562.9 749.9L563.2 751.3L563.5 752.8L563.8 754.3L564.1 755.8L564.4 757.3L564.7 758.7L565.0 760.2L565.3 761.7L565.6 763.2L565.9 764.6L566.2 766.1L566.5 767.6L566.8 769.0L567.1 770.5L567.4 772.0L567.7 773.5L568.0 774.9L568.2 776.4L568.5 777.9L568.8 779.3L569.1 780.8L569.4 782.3L569.6 783.7L569.9 785.2L570.2 786.7L570.4 788.1L570.7 789.6L571.0 791.1L571.2 792.5L571.5 794.0L571.8 795.5L572.0 797.0L572.3 798.4L572.5 799.9L572.8 801.4L573.0 802.9L573.3 804.3L573.5 805.8L573.8 807.3L574.0 808.8L574.2 810.3L574.5 811.8L574.7 813.2L574.9 814.7L575.2 816.2L575.4 817.7L575.6 819.2L575.9 820.7L576.1 822.2L576.3 823.7L576.5 825.1L576.7 826.6L577.0 828.1L577.2 829.6L577.4 831.1L577.6 832.6L577.8 834.1L578.0 835.6L578.3 837.1L578.5 838.5L578.7 840.0L578.9 841.5L579.1 843.0L579.3 844.5L579.5 846.0L579.8 847.5L580.0 849.0L580.2 850.4L580.4 851.9L580.6 853.4L580.8 854.9L581.0 856.4L581.3 857.9L581.5 859.3L581.7 860.8L581.9 862.3L582.1 863.8L582.3 865.3L582.5 866.8L582.8 868.2L583.0 869.7L583.2 871.2L583.4 872.7L583.6 874.2L583.9 875.6L584.1 877.1L584.3 878.6L584.5 880.1L584.7 881.6L585.0 883.0L585.2 884.5L585.4 886.0L585.7 887.5L585.9 888.9L586.1 890.4L586.3 891.9L586.6 893.4L586.8 894.9L587.0 896.3L587.3 897.8L587.5 899.3L587.7 900.8L588.0 902.2L588.2 903.7L588.5 905.2L588.7 906.7L589.0 908.1L589.2 909.6L589.5 911.1L589.7 912.6L590.0 914.1L590.2 915.5L590.5 917.0L590.7 918.5L591.0 920.0L591.2 921.4L591.5 922.9L591.8 924.4L592.0 925.9L592.3 927.3L592.6 928.8L592.8 930.3L593.1 931.8L593.4 933.3L593.7 934.7L593.9 936.2L594.2 937.7L594.5 939.2L594.8 940.7L595.1 942.1L595.4 943.6L595.7 945.1L596.0 946.6L596.3 948.1L596.6 949.5L596.9 951.0L597.2 952.5L597.5 954.0L597.8 955.5L598.1 957.0L598.5 958.4L598.8 959.9L599.1 961.4L599.5 962.9L599.8 964.3L600.2 965.8L600.5 967.3L600.9 968.7L601.3 970.2L601.7 971.6L602.1 973.1L602.5 974.5L602.9 976.0L603.4 977.4L603.8 978.9L604.3 980.3L604.8 981.7L605.3 983.1L605.8 984.5L606.3 985.9L606.9 987.3L607.4 988.7L608.0 990.1L608.6 991.4L609.2 992.8L609.8 994.2L610.5 995.5L611.1 996.8L611.8 998.1L612.5 999.5L613.3 1000.8L614.0 1002.0L614.8 1003.3L615.6 1004.6L616.4 1005.9L617.3 1007.1L618.2 1008.3L619.1 1009.5L620.0 1010.8L620.9 1011.9L621.9 1013.1L622.9 1014.3L623.9 1015.4L625.0 1016.5L626.0 1017.6L627.1 1018.7L628.2 1019.7L629.3 1020.8L630.5 1021.8L631.6 1022.7L632.8 1023.6L634.0 1024.6L635.2 1025.4L636.4 1026.3L637.7 1027.1L638.9 1027.9L640.2 1028.6L641.4 1029.4L642.7 1030.1L644.0 1030.8L645.4 1031.4L646.7 1032.0L648.0 1032.7L649.4 1033.2L650.7 1033.8L652.1 1034.4L653.5 1034.9L654.9 1035.4L656.3 1035.9L657.7 1036.3L659.1 1036.8L660.6 1037.2L662.0 1037.6L663.5 1038.0L664.9 1038.4L666.4 1038.7L667.8 1039.1L669.3 1039.4L670.8 1039.7L672.3 1040.0L673.8 1040.3L675.3 1040.6L676.8 1040.9L678.3 1041.1L679.8 1041.3L681.3 1041.6L682.8 1041.8L684.3 1042.0L685.8 1042.2L687.3 1042.4L688.8 1042.6L690.3 1042.8L691.9 1043.0L693.4 1043.1L694.9 1043.3L696.4 1043.4L697.9 1043.6L699.4 1043.8L700.9 1043.9L702.4 1044.0L703.9 1044.2L705.4 1044.3L707.0 1044.4L708.5 1044.6L710.0 1044.7L711.5 1044.8L713.0 1044.9L714.5 1045.0L716.0 1045.2L717.5 1045.3L719.0 1045.4L720.5 1045.5L722.0 1045.6L723.5 1045.6L725.0 1045.7L726.5 1045.8L728.0 1045.9L729.4 1046.0L730.9 1046.1L732.4 1046.1L733.9 1046.2L735.4 1046.3L736.9 1046.3L738.4 1046.4L739.9 1046.5L741.4 1046.5L742.9 1046.6L744.4 1046.6L745.9 1046.7L747.4 1046.7L748.8 1046.8L750.3 1046.8L751.8 1046.9L753.3 1046.9L754.8 1046.9L756.3 1047.0L757.8 1047.0L759.3 1047.1L760.8 1047.1L762.3 1047.1L763.7 1047.2L765.2 1047.2L766.7 1047.2L768.2 1047.2L769.7 1047.3L771.2 1047.3L772.7 1047.3L774.2 1047.3L775.7 1047.4L777.2 1047.4L778.7 1047.4L780.2 1047.4L781.6 1047.4L783.1 1047.5L784.6 1047.5L786.1 1047.5L787.6 1047.5L789.1 1047.5L790.6 1047.6L792.1 1047.6L793.6 1047.6L795.1 1047.6L796.6 1047.6L798.1 1047.6L799.6 1047.7L801.1 1047.7L802.6 1047.7L804.1 1047.7L805.6 1047.7L807.1 1047.8L808.6 1047.8L810.1 1047.8L811.6 1047.8L813.1 1047.8L814.7 1047.8L816.2 1047.8L817.7 1047.8L819.2 1047.8L820.7 1047.8L822.2 1047.8L823.7 1047.8L825.2 1047.7L826.7 1047.7L828.2 1047.6L829.7 1047.6L831.2 1047.5L832.7 1047.5L834.2 1047.4L835.7 1047.3L837.3 1047.2L838.8 1047.1L840.3 1047.0L841.8 1046.8L843.3 1046.7L844.8 1046.6L846.3 1046.4L847.8 1046.2L849.3 1046.0L850.8 1045.8L852.3 1045.6L853.8 1045.4L855.2 1045.1L856.7 1044.9L858.2 1044.6L859.7 1044.3L861.2 1044.0L862.6 1043.6L864.1 1043.2L865.5 1042.9L867.0 1042.4L868.4 1042.0L869.8 1041.5L871.2 1041.0L872.6 1040.5L874.0 1039.9L875.3 1039.4L876.7 1038.7L878.0 1038.1L879.3 1037.4L880.6 1036.7L881.9 1035.9L883.1 1035.1L884.4 1034.3L885.6 1033.4L886.8 1032.5L887.9 1031.5L889.1 1030.5L890.2 1029.5L891.3 1028.5L892.3 1027.4L893.4 1026.3L894.4 1025.1L895.4 1024.0L896.4 1022.8L897.3 1021.6L898.2 1020.4L899.1 1019.2L900.0 1017.9L900.8 1016.7L901.6 1015.4L902.4 1014.1L903.2 1012.9L903.9 1011.6L904.6 1010.2L905.3 1008.9L906.0 1007.6L906.6 1006.2L907.3 1004.9L907.9 1003.5L908.5 1002.2L909.0 1000.8L909.6 999.4L910.1 998.0L910.6 996.6L911.2 995.2L911.6 993.8L912.1 992.3L912.6 990.9L913.0 989.5L913.5 988.0L913.9 986.6L914.3 985.1L914.7 983.7L915.1 982.2L915.5 980.8L915.8 979.3L916.2 977.9L916.6 976.4L916.9 974.9L917.2 973.4L917.6 972.0L917.9 970.5L918.2 969.0L918.6 967.6L918.9 966.1L919.2 964.6L919.5 963.1L919.8 961.7L920.1 960.2L920.5 958.7L920.8 957.2L921.0 955.8L921.3 954.3L921.6 952.8L921.9 951.3L922.2 949.8L922.5 948.4L922.8 946.9L923.0 945.4L923.3 943.9L923.6 942.5L923.8 941.0L924.1 939.5L924.4 938.0L924.6 936.5L924.9 935.1L925.1 933.6L925.4 932.1L925.6 930.6L925.9 929.2L926.1 927.7L926.4 926.2L926.6 924.7L926.8 923.2L927.1 921.7L927.3 920.3L927.5 918.8L927.8 917.3L928.0 915.8L928.2 914.3L928.4 912.9L928.7 911.4L928.9 909.9L929.1 908.4L929.3 906.9L929.5 905.5L929.8 904.0L930.0 902.5L930.2 901.0L930.4 899.5L930.6 898.0L930.8 896.6L931.0 895.1L931.2 893.6L931.4 892.1L931.7 890.6L931.9 889.1L932.1 887.7L932.3 886.2L932.5 884.7L932.7 883.2L932.9 881.7L933.1 880.2L933.3 878.8L933.5 877.3L933.7 875.8L933.9 874.3L934.1 872.8L934.3 871.3L934.5 869.8L934.7 868.4L934.9 866.9L935.1 865.4L935.3 863.9L935.5 862.4L935.7 860.9L935.9 859.5L936.1 858.0L936.3 856.5L936.6 855.0L936.8 853.5L937.0 852.0L937.2 850.5L937.4 849.1L937.6 847.6L937.8 846.1L938.0 844.6L938.2 843.1L938.5 841.6L938.7 840.2L938.9 838.7L939.1 837.2L939.3 835.7L939.6 834.2L939.8 832.7L940.0 831.2L940.2 829.8L940.4 828.3L940.7 826.8L940.9 825.3L941.1 823.8L941.3 822.3L941.6 820.9L941.8 819.4L942.0 817.9L942.2 816.4L942.5 814.9L942.7 813.4L942.9 811.9L943.1 810.5L943.4 809.0L943.6 807.5L943.8 806.0L944.1 804.5L944.3 803.0L944.5 801.5L944.7 800.1L945.0 798.6L945.2 797.1L945.4 795.6L945.6 794.1L945.9 792.6L946.1 791.1L946.3 789.7L946.5 788.2L946.7 786.7L947.0 785.2L947.2 783.7L947.4 782.2L947.6 780.7L947.9 779.3L948.1 777.8L948.3 776.3L948.5 774.8L948.8 773.3L949.0 771.8L949.2 770.3L949.4 768.9L949.7 767.4L949.9 765.9L950.2 764.4L950.4 762.9L950.6 761.5L950.9 760.0L951.1 758.5L951.4 757.0L951.6 755.5L951.9 754.1L952.2 752.6L952.4 751.1L952.7 749.6L953.0 748.2L953.3 746.7L953.5 745.2L953.8 743.8L954.1 742.3L954.4 740.8L954.7 739.3L955.0 737.9L955.3 736.4L955.7 735.0L956.0 733.5L956.3 732.0L956.6 730.6L957.0 729.1L957.3 727.7L957.7 726.2L958.0 724.7L958.4 723.3L958.8 721.8L959.2 720.4L959.5 718.9L959.9 717.5L960.3 716.1L960.8 714.6L961.2 713.2L961.6 711.7L962.0 710.3L962.5 708.9L962.9 707.4L963.4 706.0L963.9 704.6L964.3 703.1L964.8 701.7L965.4 700.3L965.9 698.9L966.4 697.5L967.0 696.1L967.6 694.7L968.2 693.3L968.8 692.0L969.4 690.6L970.1 689.2L970.8 687.9L971.5 686.5L972.2 685.2L973.0 683.9L973.8 682.6L974.6 681.3L975.4 680.0L976.3 678.8L977.2 677.6L978.1 676.4L979.0 675.2L980.0 674.0L980.9 672.9L981.9 671.8L983.0 670.7L984.0 669.6L985.1 668.6L986.2 667.6L987.3 666.6L988.5 665.7L989.7 664.8L990.9 663.9L992.1 663.1L993.4 662.3L994.6 661.6L995.9 660.8L997.3 660.2L998.6 659.5L1000.0 659.0L1001.4 658.4L1002.8 657.9L1004.2 657.4L1005.7 656.9L1007.1 656.5L1008.6 656.0L1010.1 655.7L1011.5 655.3L1013.0 654.9L1014.5 654.6L1016.0 654.3L1017.5 654.0L1019.0 653.7L1020.4 653.5L1021.9 653.2L1023.4 653.0L1024.9 652.8L1026.4 652.6L1027.9 652.4L1029.4 652.2L1030.9 652.0L1032.4 651.9L1033.9 651.7L1035.4 651.6L1036.9 651.5L1038.4 651.4L1039.9 651.3L1041.4 651.2L1042.9 651.1L1044.4 651.0L1045.9 651.0L1047.4 650.9L1048.9 650.9L1050.4 650.8L1051.9 650.8L1053.3 650.8L1054.9 650.7L1056.4 650.7L1057.9 650.7L1059.4 650.7L1060.9 650.7L1062.4 650.7L1063.9 650.7L1065.4 650.7L1066.9 650.7L1068.4 650.7L1069.9 650.7L1071.4 650.7L1072.9 650.7L1074.4 650.7L1075.9 650.7L1077.4 650.7L1078.9 650.7L1080.4 650.7L1081.9 650.7L1083.4 650.7L1084.9 650.7L1086.4 650.7L1087.9 650.7L1089.4 650.6L1090.9 650.6L1092.4 650.6L1093.9 650.6L1095.4 650.6L1096.9 650.5L1098.4 650.5L1099.9 650.5L1101.4 650.5L1102.9 650.4L1104.4 650.4L1105.9 650.4L1107.4 650.4L1108.9 650.3L1110.4 650.3L1111.9 650.3L1113.4 650.2L1114.9 650.2L1116.4 650.2L1117.9 650.2L1119.4 650.1L1120.9 650.1L1122.4 650.1L1123.9 650.0L1125.4 650.0L1126.9 650.0L1128.4 650.0L1129.9 649.9L1131.4 649.9L1132.9 649.9L1134.4 649.8L1135.9 649.8L1137.4 649.8L1138.9 649.7L1140.4 649.7L1141.9 649.7L1143.4 649.6L1144.9 649.6L1146.4 649.5L1147.9 649.5L1149.4 649.4L1150.9 649.3L1152.4 649.3L1153.8 649.2L1155.3 649.1L1156.8 649.1L1158.3 649.0L1159.8 648.9L1161.3 648.8L1162.8 648.7L1164.3 648.6L1165.8 648.5L1167.3 648.4L1168.8 648.3L1170.3 648.2L1171.8 648.1L1173.3 647.9L1174.8 647.8L1176.3 647.7L1177.8 647.6L1179.3 647.4L1180.8 647.3L1182.3 647.2L1183.8 647.1L1185.3 646.9L1186.8 646.8L1188.3 646.7L1189.8 646.5L1191.3 646.4L1192.8 646.2L1194.2 646.1L1195.7 645.9L1197.2 645.8L1198.7 645.6L1200.2 645.4L1201.7 645.2L1203.2 644.9L1204.7 644.7L1206.1 644.5L1207.6 644.2L1209.1 643.9L1210.6 643.6L1212.0 643.2L1213.5 642.9L1214.9 642.5L1216.4 642.1L1217.8 641.7L1219.3 641.2L1220.7 640.7L1222.1 640.2L1223.5 639.7L1224.9 639.1L1226.3 638.5L1227.7 637.9L1229.1 637.2L1230.4 636.6L1231.7 635.9L1233.1 635.1L1234.4 634.4L1235.7 633.6L1236.9 632.8L1238.2 632.0L1239.4 631.1L1240.6 630.2L1241.8 629.3L1243.0 628.4L1244.2 627.4L1245.3 626.4L1246.4 625.4L1247.5 624.4L1248.6 623.4L1249.6 622.3L1250.7 621.2L1251.7 620.1L1252.7 619.0L1253.7 617.9L1254.6 616.7L1255.5 615.5L1256.5 614.3L1257.3 613.1L1258.2 611.9L1259.1 610.7L1259.9 609.4L1260.7 608.1L1261.5 606.9L1262.2 605.6L1262.9 604.3L1263.6 602.9L1264.3 601.6L1265.0 600.3L1265.6 598.9L1266.3 597.6L1266.9 596.2L1267.4 594.8L1268.0 593.4L1268.5 592.0L1269.1 590.6L1269.6 589.2L1270.1 587.8L1270.6 586.4L1271.0 584.9L1271.5 583.5L1271.9 582.1L1272.3 580.6L1272.7 579.2L1273.1 577.7L1273.5 576.2L1273.9 574.8L1274.3 573.3L1274.6 571.8L1275.0 570.3L1275.3 568.9L1275.7 567.4L1276.0 565.9L1276.3 564.4L1276.6 562.9L1276.9 561.4L1277.3 559.9L1277.6 558.5L1277.9 557.0L1278.2 555.5L1278.5 554.0L1278.8 552.5L1279.1 551.0L1279.4 549.6L1279.7 548.1L1280.0 546.6L1280.3 545.1L1280.6 543.6L1280.9 542.2L1281.2 540.7L1281.5 539.2L1281.7 537.8L1282.0 536.3L1282.3 534.8L1282.6 533.3L1282.9 531.9L1283.2 530.4L1283.5 528.9L1283.8 527.5L1284.0 526.0L1284.3 524.5L1284.6 523.1L1284.9 521.6L1285.2 520.1L1285.4 518.7L1285.7 517.2L1286.0 515.7L1286.2 514.3L1286.5 512.8L1286.8 511.3L1287.0 509.8L1287.3 508.4L1287.6 506.9L1287.8 505.4L1288.1 503.9L1288.3 502.5L1288.6 501.0L1288.8 499.5L1289.0 498.0L1289.3 496.5L1289.5 495.1L1289.8 493.6L1290.0 492.1L1290.2 490.6L1290.5 489.1L1290.7 487.6L1290.9 486.2L1291.1 484.7L1291.4 483.2L1291.6 481.7L1291.8 480.2L1292.0 478.7L1292.3 477.2L1292.5 475.7L1292.7 474.2L1292.9 472.8L1293.1 471.3L1293.4 469.8L1293.6 468.3L1293.8 466.8L1294.0 465.3L1294.2 463.8L1294.4 462.3L1294.6 460.8L1294.9 459.4L1295.1 457.9L1295.3 456.4L1295.5 454.9L1295.7 453.4L1295.9 451.9L1296.1 450.4L1296.3 449.0L1296.6 447.5L1296.8 446.0L1297.0 444.5L1297.2 443.0L1297.4 441.5L1297.6 440.1L1297.9 438.6L1298.1 437.1L1298.3 435.6L1298.5 434.1L1298.7 432.7L1298.9 431.2L1299.2 429.7L1299.4 428.2L1299.6 426.7L1299.8 425.3L1300.0 423.8L1300.3 422.3L1300.5 420.8L1300.7 419.3L1300.9 417.9L1301.2 416.4L1301.4 414.9L1301.6 413.4L1301.9 412.0L1302.1 410.5L1302.3 409.0L1302.6 407.5L1302.8 406.1L1303.0 404.6L1303.3 403.1L1303.5 401.6L1303.8 400.1L1304.0 398.7L1304.2 397.2L1304.5 395.7L1304.7 394.2L1305.0 392.8L1305.2 391.3L1305.5 389.8L1305.7 388.3L1306.0 386.9L1306.2 385.4L1306.5 383.9L1306.8 382.4L1307.0 380.9L1307.3 379.5L1307.6 378.0L1307.8 376.5L1308.1 375.0L1308.4 373.6L1308.6 372.1L1308.9 370.6L1309.2 369.1L1309.5 367.6L1309.8 366.2L1310.0 364.7L1310.3 363.2L1310.6 361.7L1310.9 360.2L1311.2 358.8L1311.5 357.3L1311.8 355.8L1312.1 354.3L1312.4 352.8L1312.7 351.4L1313.0 349.9L1313.3 348.4L1313.7 346.9L1314.0 345.4L1314.3 343.9L1314.7 342.5L1315.0 341.0L1315.3 339.5L1315.7 338.1L1316.1 336.6L1316.5 335.1L1316.8 333.7L1317.2 332.2L1317.6 330.8L1318.1 329.3L1318.5 327.9L1318.9 326.4L1319.4 325.0L1319.9 323.6L1320.3 322.2L1320.8 320.8L1321.3 319.3L1321.9 317.9L1322.4 316.6L1323.0 315.2L1323.6 313.8L1324.1 312.4L1324.8 311.1L1325.4 309.7L1326.0 308.4L1326.7 307.0L1327.4 305.7L1328.1 304.4L1328.9 303.1L1329.6 301.8L1330.4 300.6L1331.2 299.3L1332.0 298.0L1332.9 296.8L1333.7 295.6L1334.6 294.3L1335.6 293.1L1336.5 291.9L1337.5 290.8L1338.5 289.6L1339.5 288.5L1340.6 287.4L1341.6 286.3L1342.7 285.2L1343.8 284.2L1344.9 283.1L1346.1 282.1L1347.2 281.2L1348.4 280.3L1349.6 279.4L1350.8 278.5L1352.0 277.7L1353.3 276.8L1354.5 276.1L1355.8 275.3L1357.1 274.6L1358.4 273.9L1359.7 273.2L1361.0 272.5L1362.3 271.9L1363.7 271.3L1365.0 270.7L1366.4 270.1L1367.8 269.6L1369.1 269.1L1370.5 268.6L1371.9 268.1L1373.4 267.6L1374.8 267.2L1376.2 266.8L1377.7 266.4L1379.1 266.0L1380.6 265.6L1382.0 265.2L1383.5 264.9L1385.0 264.6L1386.4 264.2L1387.9 263.9L1389.4 263.7L1390.9 263.4L1392.4 263.1L1393.9 262.9L1395.4 262.6L1396.9 262.4L1398.4 262.2L1399.9 262.0L1401.4 261.8L1403.0 261.6L1404.5 261.4L1406.0 261.2L1407.5 261.0L1409.0 260.9L1410.5 260.7L1412.0 260.5L1413.5 260.4L1415.1 260.2L1416.6 260.1L1418.1 259.9L1419.6 259.8L1421.1 259.7L1422.6 259.5L1424.1 259.4L1425.6 259.3L1427.1 259.2L1428.6 259.1L1430.1 258.9L1431.6 258.8L1433.1 258.7L1434.6 258.6L1436.1 258.5L1437.6 258.4L1439.1 258.3L1440.6 258.3L1442.1 258.2L1443.6 258.1L1445.1 258.0L1446.6 257.9L1448.1 257.9L1449.6 257.8L1451.1 257.7L1452.6 257.7L1454.0 257.6L1455.5 257.5L1457.0 257.5L1458.5 257.4L1460.0 257.4L1461.5 257.3L1463.0 257.3L1464.5 257.2L1466.0 257.2L1467.5 257.1L1469.0 257.1L1470.4 257.1L1471.9 257.0L1473.4 257.0L1474.9 256.9L1476.4 256.9L1477.9 256.9L1479.4 256.8L1480.9 256.8L1482.4 256.8L1483.9 256.8L1485.3 256.7L1486.8 256.7L1488.3 256.7L1489.8 256.7L1491.3 256.6L1492.8 256.6L1494.3 256.6L1495.8 256.6L1497.3 256.6L1498.8 256.5L1500.3 256.5L1501.8 256.5L1503.3 256.5L1504.8 256.5L1506.3 256.4L1507.8 256.4L1509.3 256.4L1510.8 256.4L1512.3 256.4L1513.8 256.4L1515.3 256.3L1516.8 256.3L1518.3 256.3L1519.8 256.3L1521.3 256.3L1522.8 256.2L1524.3 256.2L1525.8 256.2L1527.3 256.2L1528.8 256.2L1530.3 256.2L1531.8 256.2L1533.3 256.2L1534.8 256.2L1536.3 256.2L1537.8 256.2L1539.3 256.3L1540.9 256.3L1542.4 256.3L1543.9 256.4L1545.4 256.4L1546.9 256.5L1548.4 256.5L1549.9 256.6L1551.4 256.7L1552.9 256.8L1554.4 256.9L1555.9 257.0L1557.4 257.2L1558.9 257.3L1560.4 257.5L1561.9 257.6L1563.4 257.8L1564.9 258.0L1566.4 258.2L1567.9 258.4L1569.4 258.6L1570.9 258.9L1572.4 259.2L1573.9 259.4L1575.3 259.7L1576.8 260.1L1578.3 260.4L1579.7 260.8L1581.2 261.2L1582.6 261.6L1584.0 262.1L1585.4 262.5L1586.8 263.0L1588.2 263.6L1589.6 264.1L1590.9 264.7L1592.3 265.3L1593.6 266.0L1594.9 266.7L1596.2 267.4L1597.5 268.2L1598.7 269.0L1600.0 269.8L1601.2 270.7L1602.4 271.6L1603.5 272.6L1604.7 273.6L1605.8 274.6L1606.9 275.6L1608.0 276.7L1609.0 277.8L1610.0 279.0L1611.0 280.1L1612.0 281.3L1612.9 282.5L1613.8 283.7L1614.7 284.9L1615.6 286.2L1616.4 287.4L1617.2 288.7L1618.0 290.0L1618.8 291.3L1619.5 292.6L1620.2 293.9L1620.9 295.2L1621.6 296.5L1622.2 297.9L1622.8 299.2L1623.4 300.6L1624.0 302.0L1624.6 303.4L1625.1 304.7L1625.7 306.1L1626.2 307.5L1626.7 309.0L1627.2 310.4L1627.6 311.8L1628.1 313.2L1628.5 314.7L1629.0 316.1L1629.4 317.5L1629.8 319.0L1630.2 320.4L1630.6 321.9L1631.0 323.4L1631.3 324.8L1631.7 326.3L1632.1 327.8L1632.4 329.2L1632.7 330.7L1633.1 332.2L1633.4 333.6L1633.7 335.1L1634.1 336.6L1634.4 338.1L1634.7 339.5L1635.0 341.0L1635.3 342.5L1635.6 344.0L1635.9 345.4L1636.2 346.9L1636.5 348.4L1636.8 349.9L1637.1 351.3L1637.4 352.8L1637.7 354.3L1638.0 355.8L1638.3 357.2L1638.5 358.7L1638.8 360.2L1639.1 361.7L1639.4 363.2L1639.6 364.6L1639.9 366.1L1640.1 367.6L1640.4 369.1L1640.7 370.5L1640.9 372.0L1641.2 373.5L1641.4 375.0L1641.7 376.5L1641.9 377.9L1642.1 379.4L1642.4 380.9L1642.6 382.4L1642.9 383.9L1643.1 385.3L1643.3 386.8L1643.6 388.3L1643.8 389.8L1644.0 391.3L1644.2 392.8L1644.5 394.2L1644.7 395.7L1644.9 397.2L1645.1 398.7L1645.3 400.2L1645.6 401.6L1645.8 403.1L1646.0 404.6L1646.2 406.1L1646.4 407.6L1646.6 409.1L1646.8 410.5L1647.0 412.0L1647.3 413.5L1647.5 415.0L1647.7 416.5L1647.9 418.0L1648.1 419.4L1648.3 420.9L1648.5 422.4L1648.7 423.9L1648.9 425.4L1649.1 426.9L1649.3 428.4L1649.5 429.8L1649.7 431.3L1649.9 432.8L1650.1 434.3L1650.3 435.8L1650.5 437.3L1650.7 438.7L1650.9 440.2L1651.1 441.7L1651.3 443.2L1651.5 444.7L1651.7 446.2L1651.9 447.7L1652.1 449.1L1652.3 450.6L1652.5 452.1L1652.7 453.6L1652.9 455.1L1653.1 456.6L1653.3 458.1L1653.5 459.5L1653.7 461.0L1653.9 462.5L1654.1 464.0L1654.3 465.5L1654.5 467.0L1654.7 468.5L1654.9 469.9L1655.2 471.4L1655.4 472.9L1655.6 474.4L1655.8 475.9L1656.0 477.4L1656.2 478.9L1656.4 480.3L1656.7 481.8L1656.9 483.3L1657.1 484.8L1657.3 486.3L1657.6 487.8L1657.8 489.2L1658.0 490.7L1658.2 492.2L1658.5 493.7L1658.7 495.2L1658.9 496.7L1659.2 498.2L1659.4 499.6L1659.7 501.1L1659.9 502.6L1660.2 504.1L1660.4 505.6L1660.7 507.1L1660.9 508.5L1661.2 510.0L1661.4 511.5" fill="none" stroke="#000000" stroke-width="7" stroke-linejoin="round" shape-rendering="crispEdges"/>
<g fill="#262626" stroke="#262626" stroke-width="1" stroke-linejoin="round" font-size="55.3px">
<text transform="translate(228.80 1314.10) scale(0.985 1.03)" text-anchor="middle">0</text>
<text transform="translate(387.80 1314.10) scale(0.985 1.03)" text-anchor="middle">10</text>
<text transform="translate(546.80 1314.10) scale(0.985 1.03)" text-anchor="middle">20</text>
<text transform="translate(705.80 1314.10) scale(0.985 1.03)" text-anchor="middle">30</text>
<text transform="translate(864.80 1314.10) scale(0.985 1.03)" text-anchor="middle">40</text>
<text transform="translate(1023.80 1314.10) scale(0.985 1.03)" text-anchor="middle">50</text>
<text transform="translate(1182.80 1314.10) scale(0.985 1.03)" text-anchor="middle">60</text>
<text transform="translate(1341.80 1314.10) scale(0.985 1.03)" text-anchor="middle">70</text>
<text transform="translate(1500.80 1314.10) scale(0.985 1.03)" text-anchor="middle">80</text>
<text transform="translate(1659.80 1314.10) scale(0.985 1.03)" text-anchor="middle">90</text>
<text transform="translate(204.90 93.20) scale(0.985 1.03)" text-anchor="end">1.5</text>
<text transform="translate(204.90 287.20) scale(0.985 1.03)" text-anchor="end">1</text>
<text transform="translate(204.90 480.20) scale(0.985 1.03)" text-anchor="end">0.5</text>
<text transform="translate(204.90 674.20) scale(0.985 1.03)" text-anchor="end">0</text>
<text transform="translate(206.80 868.20) scale(0.985 1.03)" text-anchor="end">-0.5</text>
<text transform="translate(206.80 1061.20) scale(0.985 1.03)" text-anchor="end">-1</text>
<text transform="translate(206.80 1255.20) scale(0.985 1.03)" text-anchor="end">-1.5</text>
</g>
<g fill="#262626" stroke="#262626" stroke-width="0.7" stroke-linejoin="round" font-size="60.85px">
<text transform="translate(945.70 1396.60) scale(1 1.05)" text-anchor="middle">Angle (Mechanical Degrees)</text>
<text transform="translate(77.50 653.40) rotate(-90) scale(1.04 1.03)" text-anchor="middle">B Radial (T)</text>
</g>
<rect x="704" y="154" width="430" height="158" fill="#262626"/>
<rect x="707" y="158" width="423" height="150" fill="#fff"/>
<rect x="722" y="195" width="166" height="7" fill="#ff0000"/>
<rect x="722" y="265" width="166" height="6" fill="#000"/>
<g fill="#000" stroke="#000" stroke-width="1.1" stroke-linejoin="round" font-size="49.8px">
<text transform="translate(899.30 218.80) scale(1 1.06)">Analytical</text>
<text transform="translate(898.90 287.70) scale(1 1.06)">2D FEM</text>
</g>
</svg></body></html>
